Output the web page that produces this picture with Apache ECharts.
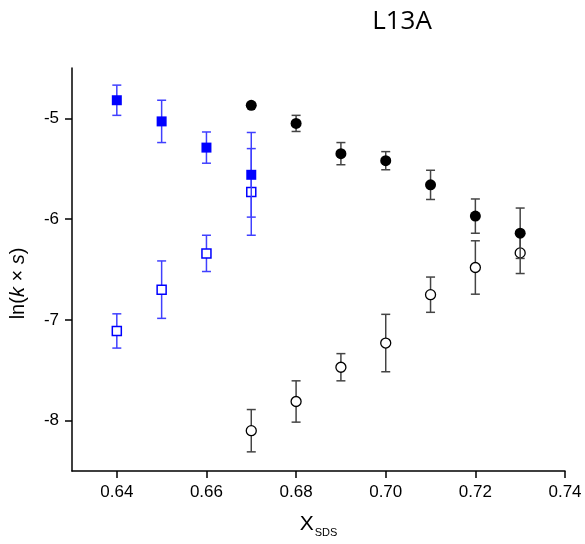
<!DOCTYPE html>
<html>
<head>
<meta charset="utf-8">
<script src="https://cdn.jsdelivr.net/npm/echarts@6/dist/echarts.min.js"></script>
<style>html,body{margin:0;padding:0;background:#fff}#c{width:585px;height:544px}</style>
</head>
<body>
<div id="c"></div>
<script>
// Data
var xTicks = [0.64, 0.66, 0.68, 0.70, 0.72, 0.74];
var yTicks = [-8, -7, -6, -5];

var blueFilledX = [0.64, 0.65, 0.66, 0.67];
var blueFilledY = [-4.82, -5.03, -5.29, -5.56];
var blueFilledErr = [0.15, 0.21, 0.155, 0.42];

var blueOpenX = [0.64, 0.65, 0.66, 0.67];
var blueOpenY = [-7.11, -6.70, -6.34, -5.73];
var blueOpenErr = [0.17, 0.285, 0.18, 0.43];

var blackFilledX = [0.67, 0.68, 0.69, 0.70, 0.71, 0.72, 0.73];
var blackFilledY = [-4.87, -5.05, -5.35, -5.42, -5.66, -5.97, -6.14];
var blackFilledErr = [0.02, 0.08, 0.11, 0.09, 0.145, 0.17, 0.25];

var blackOpenX = [0.67, 0.68, 0.69, 0.70, 0.71, 0.72, 0.73];
var blackOpenY = [-8.10, -7.81, -7.47, -7.23, -6.75, -6.48, -6.335];
var blackOpenErr = [0.21, 0.205, 0.135, 0.285, 0.175, 0.265, 0.205];

function pts(xs, ys) { return xs.map(function (x, i) { return [x, ys[i]]; }); }
function errPts(xs, ys, es) { return xs.map(function (x, i) { return [x, ys[i] - es[i], ys[i] + es[i]]; }); }

function errSeries(xs, ys, es, color, z) {
  return {
    type: 'custom',
    z: z,
    silent: true,
    data: errPts(xs, ys, es),
    encode: { x: 0, y: [1, 2] },
    renderItem: function (params, api) {
      var lo = api.coord([api.value(0), api.value(1)]);
      var hi = api.coord([api.value(0), api.value(2)]);
      var hw = 4.5;
      var style = { stroke: color, lineWidth: 1.5, fill: null };
      return {
        type: 'group',
        children: [
          { type: 'line', shape: { x1: lo[0], y1: lo[1], x2: hi[0], y2: hi[1] }, style: style },
          { type: 'line', shape: { x1: lo[0] - hw, y1: lo[1], x2: lo[0] + hw, y2: lo[1] }, style: style },
          { type: 'line', shape: { x1: hi[0] - hw, y1: hi[1], x2: hi[0] + hw, y2: hi[1] }, style: style }
        ]
      };
    }
  };
}

var blue = '#0000ff';
var blueErr = '#4040ff';
var blackErr = '#444444';

var chart = echarts.init(document.getElementById('c'), null, { renderer: 'canvas' });
chart.setOption({
  animation: false,
  backgroundColor: '#fff',
  title: {
    text: 'L13A',
    left: 397,
    top: 4,
    textAlign: 'center',
    textStyle: { fontFamily: 'Open Sans', fontSize: 26, fontWeight: 'normal', color: '#000' }
  },
  grid: { left: 70, right: 20, top: 68, bottom: 73, containLabel: false },
  xAxis: {
    type: 'value',
    min: 0.63,
    max: 0.74,
    splitLine: { show: false },
    axisLine: { lineStyle: { color: '#000', width: 1.5 } },
    axisTick: { length: 7, customValues: xTicks, lineStyle: { color: '#000', width: 1.5 } },
    axisLabel: {
      customValues: xTicks,
      margin: 13,
      color: '#000',
      fontFamily: 'Liberation Sans',
      fontSize: 17,
      formatter: function (v) { return v.toFixed(2); }
    },
    name: '{m|X}{s|SDS}',
    nameLocation: 'middle',
    nameGap: 40,
    nameTextStyle: {
      rich: {
        m: { fontFamily: 'Liberation Sans', fontSize: 21, color: '#000' },
        s: { fontFamily: 'Liberation Sans', fontSize: 11, color: '#000', padding: [16, 0, 0, 1] }
      }
    }
  },
  yAxis: {
    type: 'value',
    min: -8.5,
    max: -4.5,
    splitLine: { show: false },
    axisLine: { lineStyle: { color: '#000', width: 1.5 } },
    axisTick: { length: 7, customValues: yTicks, lineStyle: { color: '#000', width: 1.5 } },
    axisLabel: {
      customValues: yTicks,
      margin: 13,
      color: '#000',
      fontFamily: 'Liberation Sans',
      fontSize: 17
    },
    name: '{n|ln(}{i|k}{n| × }{i|s}{n|)}',
    nameLocation: 'middle',
    nameGap: 44,
    nameRotate: 90,
    nameTextStyle: {
      padding: [0, 28, 0, 0],
      rich: {
        n: { fontFamily: 'Liberation Sans', fontSize: 20, color: '#000' },
        i: { fontFamily: 'Liberation Sans', fontSize: 20, fontStyle: 'italic', color: '#000' }
      }
    }
  },
  series: [
    errSeries(blueOpenX, blueOpenY, blueOpenErr, blueErr, 2),
    {
      type: 'scatter', z: 3, symbol: 'rect', symbolSize: 9,
      data: pts(blueOpenX, blueOpenY),
      itemStyle: { color: '#fff', borderColor: blue, borderWidth: 1.5, opacity: 1 }
    },
    errSeries(blackOpenX, blackOpenY, blackOpenErr, blackErr, 2),
    {
      type: 'scatter', z: 3, symbol: 'circle', symbolSize: 10,
      data: pts(blackOpenX, blackOpenY),
      itemStyle: { color: '#fff', borderColor: '#000', borderWidth: 1.3, opacity: 1 }
    },
    errSeries(blueFilledX, blueFilledY, blueFilledErr, blueErr, 4),
    {
      type: 'scatter', z: 5, symbol: 'rect', symbolSize: 10,
      data: pts(blueFilledX, blueFilledY),
      itemStyle: { color: blue, opacity: 1 }
    },
    errSeries(blackFilledX, blackFilledY, blackFilledErr, blackErr, 4),
    {
      type: 'scatter', z: 5, symbol: 'circle', symbolSize: 11,
      data: pts(blackFilledX, blackFilledY),
      itemStyle: { color: '#000', opacity: 1 }
    }
  ]
});
</script>
</body>
</html>
